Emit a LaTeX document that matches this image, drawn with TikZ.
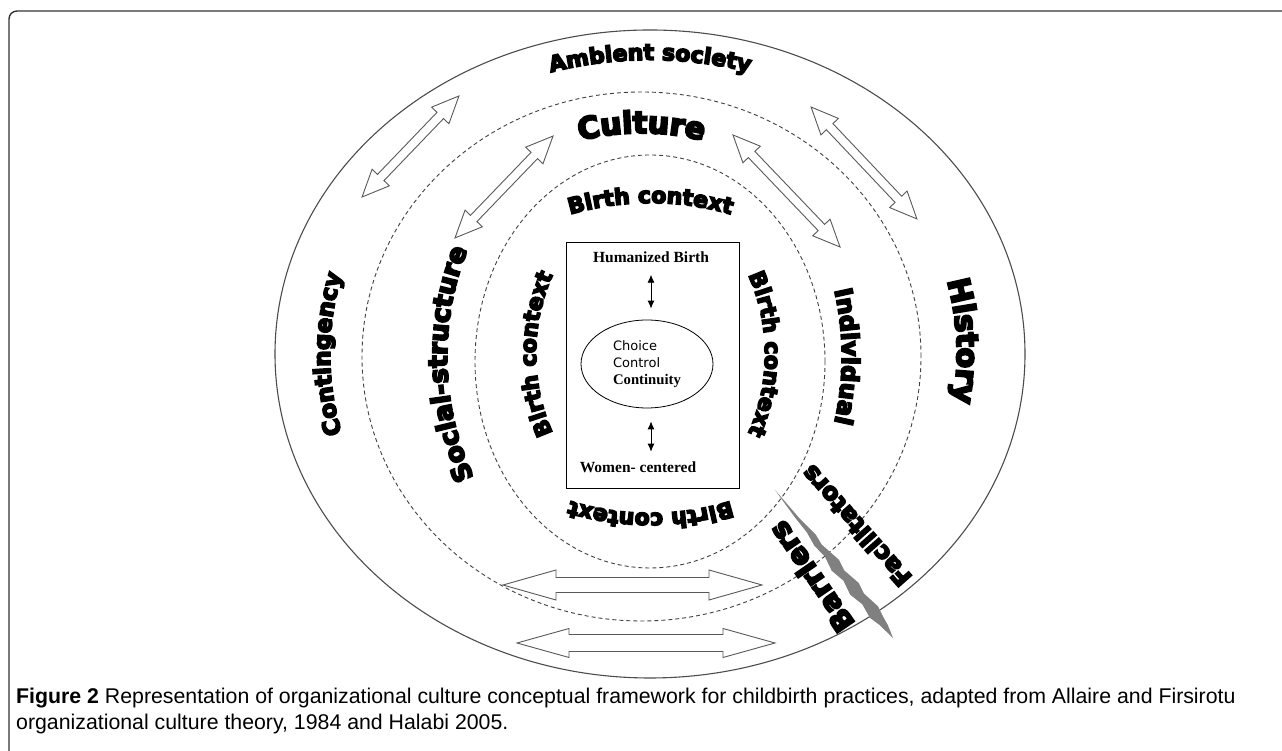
\documentclass[tikz,border=0pt]{standalone}
\usepackage{fontspec}
\setmainfont{Liberation Serif}
\newfontfamily\heavy{DejaVu Sans Bold}[FakeBold=7]
\newfontfamily\capfont{Liberation Sans}
\newfontfamily\verd{DejaVu Sans}
\usetikzlibrary{calc,decorations.text,arrows.meta,shapes.geometric}

\tikzset{
  ring/.style={draw=black!70, line width=1.1pt},
  dashring/.style={draw=black!75, line width=0.9pt, dash pattern=on 4pt off 3pt},
  twoway/.style={draw=black!65, line width=0.9pt, fill=white},
  smallarr/.style={{Latex[length=8pt,width=7pt]}-{Latex[length=8pt,width=7pt]}, line width=0.9pt},
}

% text bent along an elliptic arc: centre x, centre y, x radius, y radius, from, to, size, text
\newcommand{\ringtext}[8]{%
  \path[decorate, decoration={text along path, text align=center,
    text={|\heavy\fontsize{#7}{#7}\selectfont|#8}}]
    ([shift={(#1,#2)}]#5:#3 and #4) arc[start angle=#5, end angle=#6, x radius=#3, y radius=#4];}

% hollow double arrow: centre x, centre y, angle, half length, head length, head half width, shaft half width
\newcommand{\dblarrow}[7]{%
  \draw[twoway, shift={(#1,#2)}, rotate=#3]
    (-#4,0) -- (-#4+#5,#6) -- (-#4+#5,#7) -- (#4-#5,#7) -- (#4-#5,#6) -- (#4,0)
    -- (#4-#5,-#6) -- (#4-#5,-#7) -- (-#4+#5,-#7) -- (-#4+#5,-#6) -- cycle;}

\begin{document}
\begin{tikzpicture}[x=1pt,y=1pt]
  \useasboundingbox (0,0) rectangle (1282,751);
  \draw[line width=1.4pt, black!80, rounded corners=8pt] (9,0) -- (9,740) -- (1282,740);

  % rings
  \draw[ring] (650,397) ellipse [x radius=375, y radius=324];
  \draw[dashring] (641.5,394.5) ellipse [x radius=279.5, y radius=264.5];
  \draw[dashring] (650,389.5) ellipse [x radius=175, y radius=206.5];

  % centre box
  \draw[line width=0.8pt] (566,263) rectangle (739,509);
  \node[draw, ellipse, line width=0.8pt, minimum width=132, minimum height=88, inner sep=0,
        align=left, font=\fontsize{13}{17}\selectfont] (core) at (647,387)
    {{\verd Choice}\\{\verd Control}\\{\bfseries\fontsize{14.7}{17}\selectfont Continuity}};
  \node[anchor=base, font=\bfseries\fontsize{15.5}{18}\selectfont] (hb) at (651,488) {Humanized Birth};
  \node[anchor=base, font=\bfseries\fontsize{15.5}{18}\selectfont] (wc) at (638,278) {Women- centered};
  \draw[smallarr, shorten <=8pt, shorten >=11pt] (hb.south) -- (hb.south |- core.north);
  \draw[smallarr, shorten <=13pt, shorten >=7pt] (hb.south |- core.south) -- (hb.south |- wc.north);

  % ring labels
  \ringtext{650}{397}{345}{294}{150}{30}{22}{Ambient society}
  \ringtext{650}{397}{320}{294}{220}{140}{23}{Contingency}
  \ringtext{650}{397}{307}{290}{40}{-35}{30}{History}
  \ringtext{641.5}{394.5}{238}{223.5}{125}{55}{30}{Culture}
  \ringtext{645}{394.5}{198}{240}{222}{142}{26}{Social-structure}
  \ringtext{645}{394.5}{197}{240}{35}{-35}{24}{Individual}
  \ringtext{650.5}{397}{210}{151}{150}{30}{22}{Birth context}
  \ringtext{650.5}{397}{114.5}{151}{240}{120}{22}{Birth context}
  \ringtext{650.5}{397}{114.5}{151}{60}{-60}{22}{Birth context}
  \ringtext{650.5}{397}{210}{159}{330}{210}{22}{Birth context}

  % arrows between the rings
  \dblarrow{410.5}{604.5}{46.2}{70}{27}{12}{4.5}
  \dblarrow{504}{564}{46.1}{70.7}{27}{12}{4.5}
  \dblarrow{786.5}{560}{-46.3}{77.5}{27}{12}{4.5}
  \dblarrow{864}{588}{-46.6}{77}{27}{12}{4.5}
  \dblarrow{632.5}{166}{0}{129.5}{53}{15}{7.5}
  \dblarrow{646}{108}{0}{129}{52}{14.5}{8.5}

  % barrier spike
  \coordinate (sA) at (775,261);
  \coordinate (sB) at (893,113);
  \fill[gray] (sA)
    \foreach \t/\d in {0.2/1.5,0.32/4,0.38/2.5,0.5/6.5,0.56/4,0.66/7.5,0.72/5,0.82/8,0.88/5.5,0.93/4}
      { -- ($(sA)!\t!(sB)!\d pt!90:(sB)$) }
    -- (sB)
    \foreach \t/\d in {0.9/2.5,0.84/5.5,0.76/3,0.68/6.5,0.6/3,0.52/6,0.44/2.5,0.36/4,0.28/1.5,0.18/1.5}
      { -- ($(sA)!\t!(sB)!\d pt!-90:(sB)$) }
    -- cycle;
  \node[rotate=131.5, inner sep=0, font=\heavy\fontsize{24}{24}\selectfont] (fac) at (856,225) {Facilitators};
  \node[rotate=124.5, inner sep=0, font=\heavy\fontsize{28}{28}\selectfont] (bar) at (811,174) {Barriers};

  % caption
  \node[anchor=base west, inner sep=0, font=\capfont\fontsize{21.3}{25}\selectfont] (cap1) at (16,47)
    {\textbf{Figure 2} Representation of organizational culture conceptual framework for childbirth practices, adapted from Allaire and Firsirotu};
  \node[anchor=base west, inner sep=0, font=\capfont\fontsize{21.3}{25}\selectfont] (cap2) at (16,21)
    {organizational culture theory, 1984 and Halabi 2005.};
\end{tikzpicture}
\end{document}
